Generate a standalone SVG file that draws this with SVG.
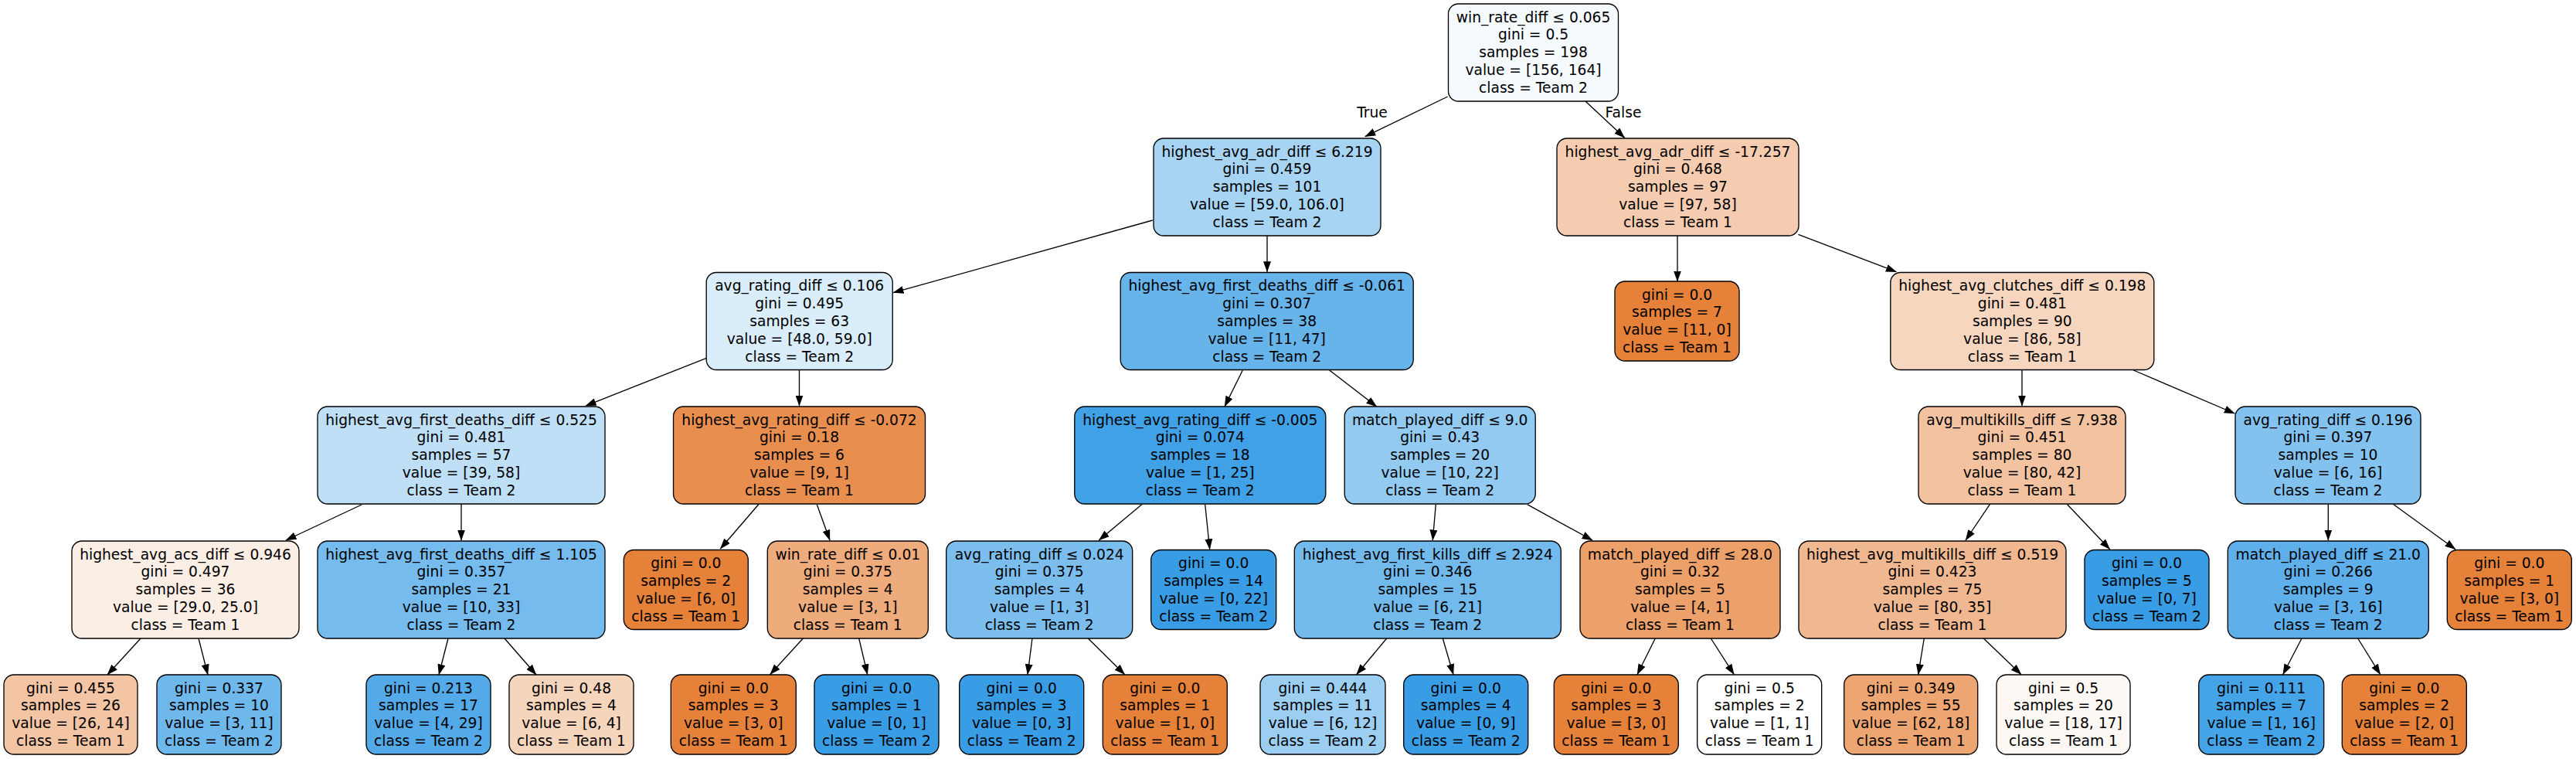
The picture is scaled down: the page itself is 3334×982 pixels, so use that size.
<svg xmlns="http://www.w3.org/2000/svg" width="3334" height="982" viewBox="0 0 3334 982">
<defs>
<marker id="ah" markerUnits="userSpaceOnUse" markerWidth="14" markerHeight="10" viewBox="0 0 14 10" refX="13.5" refY="5" orient="auto">
<path d="M0,0 L14,5 L0,10 z" fill="#000"/>
</marker>
</defs>
<style>
.nd rect{stroke:#000;stroke-width:1.33}
.nd text,.lbl{font-family:"DejaVu Sans","Liberation Sans",sans-serif;font-size:18.67px;fill:#000;text-anchor:middle}
.ed line{stroke:#000;stroke-width:1.33;marker-end:url(#ah)}
</style>
<rect width="3334" height="982" fill="#fff"/>
<g id="edges" class="ed">
<line x1="1873.6" y1="125" x2="1766.7" y2="176.7"/>
<line x1="2052" y1="131" x2="2102.7" y2="178.3"/>
<line x1="1491.7" y1="285" x2="1156" y2="378.7"/>
<line x1="1640" y1="305" x2="1640" y2="351.7"/>
<line x1="2171" y1="305" x2="2171" y2="364"/>
<line x1="2327.4" y1="303.3" x2="2454.4" y2="351.7"/>
<line x1="914.3" y1="463.3" x2="758" y2="525"/>
<line x1="1034.5" y1="478" x2="1034.5" y2="525"/>
<line x1="1608.3" y1="479" x2="1585" y2="526"/>
<line x1="1720.7" y1="479" x2="1781.7" y2="526"/>
<line x1="2617" y1="479" x2="2617" y2="525"/>
<line x1="2761.3" y1="479" x2="2892.3" y2="535"/>
<line x1="468" y1="653" x2="370" y2="699"/>
<line x1="597" y1="652" x2="597" y2="699"/>
<line x1="981.7" y1="652.7" x2="932.3" y2="710"/>
<line x1="1057.3" y1="652.7" x2="1074" y2="699"/>
<line x1="1477.7" y1="652.7" x2="1422.3" y2="699"/>
<line x1="1559.7" y1="652.7" x2="1565.7" y2="710.7"/>
<line x1="1858.3" y1="652.7" x2="1854.3" y2="699"/>
<line x1="1976.7" y1="652.7" x2="2061" y2="699"/>
<line x1="2575.3" y1="652.7" x2="2544" y2="699"/>
<line x1="2675.7" y1="652.7" x2="2730.7" y2="710.7"/>
<line x1="3013.3" y1="652" x2="3013.3" y2="699"/>
<line x1="3098" y1="652.7" x2="3178" y2="710.7"/>
<line x1="182" y1="826" x2="139" y2="873"/>
<line x1="257" y1="826" x2="269" y2="873"/>
<line x1="580" y1="826" x2="568" y2="873"/>
<line x1="653" y1="826" x2="694" y2="873"/>
<line x1="1039.3" y1="826" x2="996.7" y2="872.7"/>
<line x1="1111.7" y1="826" x2="1122.7" y2="872.7"/>
<line x1="1336" y1="826" x2="1330" y2="872.7"/>
<line x1="1408.3" y1="826" x2="1455.7" y2="872.7"/>
<line x1="1794.7" y1="826" x2="1755.7" y2="872.7"/>
<line x1="1867.3" y1="826" x2="1881" y2="872.7"/>
<line x1="2142.3" y1="826" x2="2119" y2="872.7"/>
<line x1="2214.3" y1="826" x2="2244.3" y2="872.7"/>
<line x1="2490.3" y1="826" x2="2482.7" y2="872.7"/>
<line x1="2567.3" y1="826" x2="2616" y2="872.7"/>
<line x1="2979" y1="826" x2="2954.7" y2="872.7"/>
<line x1="3051.7" y1="826" x2="3080.7" y2="872.7"/>
<text class="lbl" x="1776" y="152">True</text>
<text class="lbl" x="2101" y="152">False</text>
</g>

<g id="n_root" class="nd"><rect x="1874.5" y="5" width="220" height="126" rx="13" fill="#f5fafe"/>
<text x="1984.5" y="28.5">win_rate_diff ≤ 0.065<tspan x="1984.5" dy="22.9">gini = 0.5</tspan><tspan x="1984.5" dy="22.9">samples = 198</tspan><tspan x="1984.5" dy="22.9">value = [156, 164]</tspan><tspan x="1984.5" dy="22.9">class = Team 2</tspan></text></g>

<g id="n_A" class="nd"><rect x="1493" y="179" width="294" height="126" rx="13" fill="#a7d4f3"/>
<text x="1640" y="202.5">highest_avg_adr_diff ≤ 6.219<tspan x="1640" dy="22.9">gini = 0.459</tspan><tspan x="1640" dy="22.9">samples = 101</tspan><tspan x="1640" dy="22.9">value = [59.0, 106.0]</tspan><tspan x="1640" dy="22.9">class = Team 2</tspan></text></g>

<g id="n_B" class="nd"><rect x="2015" y="179" width="313" height="126" rx="13" fill="#f5ccaf"/>
<text x="2171.5" y="202.5">highest_avg_adr_diff ≤ -17.257<tspan x="2171.5" dy="22.9">gini = 0.468</tspan><tspan x="2171.5" dy="22.9">samples = 97</tspan><tspan x="2171.5" dy="22.9">value = [97, 58]</tspan><tspan x="2171.5" dy="22.9">class = Team 1</tspan></text></g>

<g id="n_C" class="nd"><rect x="914.2" y="352.5" width="241" height="126" rx="13" fill="#daedfa"/>
<text x="1034.7" y="376">avg_rating_diff ≤ 0.106<tspan x="1034.7" dy="22.9">gini = 0.495</tspan><tspan x="1034.7" dy="22.9">samples = 63</tspan><tspan x="1034.7" dy="22.9">value = [48.0, 59.0]</tspan><tspan x="1034.7" dy="22.9">class = Team 2</tspan></text></g>

<g id="n_D" class="nd"><rect x="1450.2" y="352.5" width="379" height="126" rx="13" fill="#67b4eb"/>
<text x="1639.7" y="376">highest_avg_first_deaths_diff ≤ -0.061<tspan x="1639.7" dy="22.9">gini = 0.307</tspan><tspan x="1639.7" dy="22.9">samples = 38</tspan><tspan x="1639.7" dy="22.9">value = [11, 47]</tspan><tspan x="1639.7" dy="22.9">class = Team 2</tspan></text></g>

<g id="n_E" class="nd"><rect x="2090" y="364" width="161" height="103" rx="13" fill="#e58139"/>
<text x="2170.5" y="387.5">gini = 0.0<tspan x="2170.5" dy="22.9">samples = 7</tspan><tspan x="2170.5" dy="22.9">value = [11, 0]</tspan><tspan x="2170.5" dy="22.9">class = Team 1</tspan></text></g>

<g id="n_F" class="nd"><rect x="2446.8" y="352.5" width="341" height="126" rx="13" fill="#f7d6bf"/>
<text x="2617.3" y="376">highest_avg_clutches_diff ≤ 0.198<tspan x="2617.3" dy="22.9">gini = 0.481</tspan><tspan x="2617.3" dy="22.9">samples = 90</tspan><tspan x="2617.3" dy="22.9">value = [86, 58]</tspan><tspan x="2617.3" dy="22.9">class = Team 1</tspan></text></g>

<g id="n_G" class="nd"><rect x="411" y="526" width="372" height="126" rx="13" fill="#bedff6"/>
<text x="597" y="549.5">highest_avg_first_deaths_diff ≤ 0.525<tspan x="597" dy="22.9">gini = 0.481</tspan><tspan x="597" dy="22.9">samples = 57</tspan><tspan x="597" dy="22.9">value = [39, 58]</tspan><tspan x="597" dy="22.9">class = Team 2</tspan></text></g>

<g id="n_H" class="nd"><rect x="871.5" y="526" width="326" height="126" rx="13" fill="#e88f4f"/>
<text x="1034.5" y="549.5">highest_avg_rating_diff ≤ -0.072<tspan x="1034.5" dy="22.9">gini = 0.18</tspan><tspan x="1034.5" dy="22.9">samples = 6</tspan><tspan x="1034.5" dy="22.9">value = [9, 1]</tspan><tspan x="1034.5" dy="22.9">class = Team 1</tspan></text></g>

<g id="n_I" class="nd"><rect x="1390.8" y="526" width="325" height="126" rx="13" fill="#41a1e6"/>
<text x="1553.3" y="549.5">highest_avg_rating_diff ≤ -0.005<tspan x="1553.3" dy="22.9">gini = 0.074</tspan><tspan x="1553.3" dy="22.9">samples = 18</tspan><tspan x="1553.3" dy="22.9">value = [1, 25]</tspan><tspan x="1553.3" dy="22.9">class = Team 2</tspan></text></g>

<g id="n_J" class="nd"><rect x="1740.2" y="526" width="247" height="126" rx="13" fill="#93caf1"/>
<text x="1863.7" y="549.5">match_played_diff ≤ 9.0<tspan x="1863.7" dy="22.9">gini = 0.43</tspan><tspan x="1863.7" dy="22.9">samples = 20</tspan><tspan x="1863.7" dy="22.9">value = [10, 22]</tspan><tspan x="1863.7" dy="22.9">class = Team 2</tspan></text></g>

<g id="n_K" class="nd"><rect x="2483" y="526" width="268" height="126" rx="13" fill="#f3c3a1"/>
<text x="2617" y="549.5">avg_multikills_diff ≤ 7.938<tspan x="2617" dy="22.9">gini = 0.451</tspan><tspan x="2617" dy="22.9">samples = 80</tspan><tspan x="2617" dy="22.9">value = [80, 42]</tspan><tspan x="2617" dy="22.9">class = Team 1</tspan></text></g>

<g id="n_L" class="nd"><rect x="2893" y="526" width="240" height="126" rx="13" fill="#83c2ef"/>
<text x="3013" y="549.5">avg_rating_diff ≤ 0.196<tspan x="3013" dy="22.9">gini = 0.397</tspan><tspan x="3013" dy="22.9">samples = 10</tspan><tspan x="3013" dy="22.9">value = [6, 16]</tspan><tspan x="3013" dy="22.9">class = Team 2</tspan></text></g>

<g id="n_M" class="nd"><rect x="93" y="700" width="294" height="126" rx="13" fill="#fbeee4"/>
<text x="240" y="723.5">highest_avg_acs_diff ≤ 0.946<tspan x="240" dy="22.9">gini = 0.497</tspan><tspan x="240" dy="22.9">samples = 36</tspan><tspan x="240" dy="22.9">value = [29.0, 25.0]</tspan><tspan x="240" dy="22.9">class = Team 1</tspan></text></g>

<g id="n_N" class="nd"><rect x="411" y="700" width="372" height="126" rx="13" fill="#75bbed"/>
<text x="597" y="723.5">highest_avg_first_deaths_diff ≤ 1.105<tspan x="597" dy="22.9">gini = 0.357</tspan><tspan x="597" dy="22.9">samples = 21</tspan><tspan x="597" dy="22.9">value = [10, 33]</tspan><tspan x="597" dy="22.9">class = Team 2</tspan></text></g>

<g id="n_O" class="nd"><rect x="807.3" y="711.5" width="161" height="103" rx="13" fill="#e58139"/>
<text x="887.8" y="735">gini = 0.0<tspan x="887.8" dy="22.9">samples = 2</tspan><tspan x="887.8" dy="22.9">value = [6, 0]</tspan><tspan x="887.8" dy="22.9">class = Team 1</tspan></text></g>

<g id="n_P" class="nd"><rect x="993.3" y="700" width="208" height="126" rx="13" fill="#eeab7b"/>
<text x="1097.3" y="723.5">win_rate_diff ≤ 0.01<tspan x="1097.3" dy="22.9">gini = 0.375</tspan><tspan x="1097.3" dy="22.9">samples = 4</tspan><tspan x="1097.3" dy="22.9">value = [3, 1]</tspan><tspan x="1097.3" dy="22.9">class = Team 1</tspan></text></g>

<g id="n_Q" class="nd"><rect x="1224.7" y="700" width="241" height="126" rx="13" fill="#7bbeee"/>
<text x="1345.2" y="723.5">avg_rating_diff ≤ 0.024<tspan x="1345.2" dy="22.9">gini = 0.375</tspan><tspan x="1345.2" dy="22.9">samples = 4</tspan><tspan x="1345.2" dy="22.9">value = [1, 3]</tspan><tspan x="1345.2" dy="22.9">class = Team 2</tspan></text></g>

<g id="n_R" class="nd"><rect x="1489.7" y="711.5" width="162" height="103" rx="13" fill="#399de5"/>
<text x="1570.7" y="735">gini = 0.0<tspan x="1570.7" dy="22.9">samples = 14</tspan><tspan x="1570.7" dy="22.9">value = [0, 22]</tspan><tspan x="1570.7" dy="22.9">class = Team 2</tspan></text></g>

<g id="n_S" class="nd"><rect x="1675.3" y="700" width="345" height="126" rx="13" fill="#72b9ec"/>
<text x="1847.8" y="723.5">highest_avg_first_kills_diff ≤ 2.924<tspan x="1847.8" dy="22.9">gini = 0.346</tspan><tspan x="1847.8" dy="22.9">samples = 15</tspan><tspan x="1847.8" dy="22.9">value = [6, 21]</tspan><tspan x="1847.8" dy="22.9">class = Team 2</tspan></text></g>

<g id="n_T" class="nd"><rect x="2045" y="700" width="259" height="126" rx="13" fill="#eca06a"/>
<text x="2174.5" y="723.5">match_played_diff ≤ 28.0<tspan x="2174.5" dy="22.9">gini = 0.32</tspan><tspan x="2174.5" dy="22.9">samples = 5</tspan><tspan x="2174.5" dy="22.9">value = [4, 1]</tspan><tspan x="2174.5" dy="22.9">class = Team 1</tspan></text></g>

<g id="n_U" class="nd"><rect x="2328" y="700" width="346" height="126" rx="13" fill="#f0b890"/>
<text x="2501" y="723.5">highest_avg_multikills_diff ≤ 0.519<tspan x="2501" dy="22.9">gini = 0.423</tspan><tspan x="2501" dy="22.9">samples = 75</tspan><tspan x="2501" dy="22.9">value = [80, 35]</tspan><tspan x="2501" dy="22.9">class = Team 1</tspan></text></g>

<g id="n_V" class="nd"><rect x="2698" y="711.5" width="161" height="103" rx="13" fill="#399de5"/>
<text x="2778.5" y="735">gini = 0.0<tspan x="2778.5" dy="22.9">samples = 5</tspan><tspan x="2778.5" dy="22.9">value = [0, 7]</tspan><tspan x="2778.5" dy="22.9">class = Team 2</tspan></text></g>

<g id="n_W" class="nd"><rect x="2883.3" y="700" width="260" height="126" rx="13" fill="#5eafea"/>
<text x="3013.3" y="723.5">match_played_diff ≤ 21.0<tspan x="3013.3" dy="22.9">gini = 0.266</tspan><tspan x="3013.3" dy="22.9">samples = 9</tspan><tspan x="3013.3" dy="22.9">value = [3, 16]</tspan><tspan x="3013.3" dy="22.9">class = Team 2</tspan></text></g>

<g id="n_X" class="nd"><rect x="3167.3" y="711.5" width="161" height="103" rx="13" fill="#e58139"/>
<text x="3247.8" y="735">gini = 0.0<tspan x="3247.8" dy="22.9">samples = 1</tspan><tspan x="3247.8" dy="22.9">value = [3, 0]</tspan><tspan x="3247.8" dy="22.9">class = Team 1</tspan></text></g>

<g id="n_M1" class="nd"><rect x="5" y="873" width="173" height="103" rx="13" fill="#f3c5a4"/>
<text x="91.5" y="896.5">gini = 0.455<tspan x="91.5" dy="22.9">samples = 26</tspan><tspan x="91.5" dy="22.9">value = [26, 14]</tspan><tspan x="91.5" dy="22.9">class = Team 1</tspan></text></g>

<g id="n_M2" class="nd"><rect x="203" y="873" width="161" height="103" rx="13" fill="#6fb8ec"/>
<text x="283.5" y="896.5">gini = 0.337<tspan x="283.5" dy="22.9">samples = 10</tspan><tspan x="283.5" dy="22.9">value = [3, 11]</tspan><tspan x="283.5" dy="22.9">class = Team 2</tspan></text></g>

<g id="n_N1" class="nd"><rect x="474" y="873" width="161" height="103" rx="13" fill="#54aae9"/>
<text x="554.5" y="896.5">gini = 0.213<tspan x="554.5" dy="22.9">samples = 17</tspan><tspan x="554.5" dy="22.9">value = [4, 29]</tspan><tspan x="554.5" dy="22.9">class = Team 2</tspan></text></g>

<g id="n_N2" class="nd"><rect x="659" y="873" width="161" height="103" rx="13" fill="#f6d5bd"/>
<text x="739.5" y="896.5">gini = 0.48<tspan x="739.5" dy="22.9">samples = 4</tspan><tspan x="739.5" dy="22.9">value = [6, 4]</tspan><tspan x="739.5" dy="22.9">class = Team 1</tspan></text></g>

<g id="n_P1" class="nd"><rect x="868.3" y="873" width="162" height="103" rx="13" fill="#e58139"/>
<text x="949.3" y="896.5">gini = 0.0<tspan x="949.3" dy="22.9">samples = 3</tspan><tspan x="949.3" dy="22.9">value = [3, 0]</tspan><tspan x="949.3" dy="22.9">class = Team 1</tspan></text></g>

<g id="n_P2" class="nd"><rect x="1054" y="873" width="161" height="103" rx="13" fill="#399de5"/>
<text x="1134.5" y="896.5">gini = 0.0<tspan x="1134.5" dy="22.9">samples = 1</tspan><tspan x="1134.5" dy="22.9">value = [0, 1]</tspan><tspan x="1134.5" dy="22.9">class = Team 2</tspan></text></g>

<g id="n_Q1" class="nd"><rect x="1241.7" y="873" width="161" height="103" rx="13" fill="#399de5"/>
<text x="1322.2" y="896.5">gini = 0.0<tspan x="1322.2" dy="22.9">samples = 3</tspan><tspan x="1322.2" dy="22.9">value = [0, 3]</tspan><tspan x="1322.2" dy="22.9">class = Team 2</tspan></text></g>

<g id="n_Q2" class="nd"><rect x="1427.3" y="873" width="161" height="103" rx="13" fill="#e58139"/>
<text x="1507.8" y="896.5">gini = 0.0<tspan x="1507.8" dy="22.9">samples = 1</tspan><tspan x="1507.8" dy="22.9">value = [1, 0]</tspan><tspan x="1507.8" dy="22.9">class = Team 1</tspan></text></g>

<g id="n_S1" class="nd"><rect x="1631" y="873" width="162" height="103" rx="13" fill="#9ccef2"/>
<text x="1712" y="896.5">gini = 0.444<tspan x="1712" dy="22.9">samples = 11</tspan><tspan x="1712" dy="22.9">value = [6, 12]</tspan><tspan x="1712" dy="22.9">class = Team 2</tspan></text></g>

<g id="n_S2" class="nd"><rect x="1816.7" y="873" width="161" height="103" rx="13" fill="#399de5"/>
<text x="1897.2" y="896.5">gini = 0.0<tspan x="1897.2" dy="22.9">samples = 4</tspan><tspan x="1897.2" dy="22.9">value = [0, 9]</tspan><tspan x="1897.2" dy="22.9">class = Team 2</tspan></text></g>

<g id="n_T1" class="nd"><rect x="2011.3" y="873" width="161" height="103" rx="13" fill="#e58139"/>
<text x="2091.8" y="896.5">gini = 0.0<tspan x="2091.8" dy="22.9">samples = 3</tspan><tspan x="2091.8" dy="22.9">value = [3, 0]</tspan><tspan x="2091.8" dy="22.9">class = Team 1</tspan></text></g>

<g id="n_T2" class="nd"><rect x="2196.7" y="873" width="161" height="103" rx="13" fill="#ffffff"/>
<text x="2277.2" y="896.5">gini = 0.5<tspan x="2277.2" dy="22.9">samples = 2</tspan><tspan x="2277.2" dy="22.9">value = [1, 1]</tspan><tspan x="2277.2" dy="22.9">class = Team 1</tspan></text></g>

<g id="n_U1" class="nd"><rect x="2386.7" y="873" width="173" height="103" rx="13" fill="#eda672"/>
<text x="2473.2" y="896.5">gini = 0.349<tspan x="2473.2" dy="22.9">samples = 55</tspan><tspan x="2473.2" dy="22.9">value = [62, 18]</tspan><tspan x="2473.2" dy="22.9">class = Team 1</tspan></text></g>

<g id="n_U2" class="nd"><rect x="2584" y="873" width="173" height="103" rx="13" fill="#fef8f4"/>
<text x="2670.5" y="896.5">gini = 0.5<tspan x="2670.5" dy="22.9">samples = 20</tspan><tspan x="2670.5" dy="22.9">value = [18, 17]</tspan><tspan x="2670.5" dy="22.9">class = Team 1</tspan></text></g>

<g id="n_W1" class="nd"><rect x="2845.7" y="873" width="162" height="103" rx="13" fill="#45a3e7"/>
<text x="2926.7" y="896.5">gini = 0.111<tspan x="2926.7" dy="22.9">samples = 7</tspan><tspan x="2926.7" dy="22.9">value = [1, 16]</tspan><tspan x="2926.7" dy="22.9">class = Team 2</tspan></text></g>

<g id="n_W2" class="nd"><rect x="3031.3" y="873" width="161" height="103" rx="13" fill="#e58139"/>
<text x="3111.8" y="896.5">gini = 0.0<tspan x="3111.8" dy="22.9">samples = 2</tspan><tspan x="3111.8" dy="22.9">value = [2, 0]</tspan><tspan x="3111.8" dy="22.9">class = Team 1</tspan></text></g>
</svg>
